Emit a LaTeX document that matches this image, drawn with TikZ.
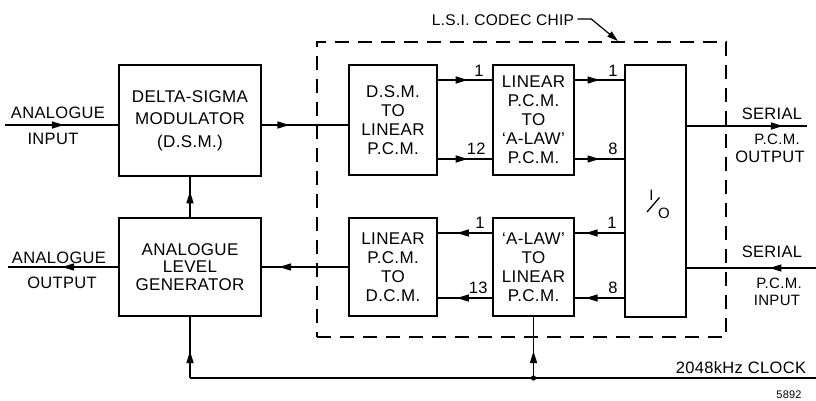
\documentclass[tikz,border=0pt]{standalone}
\usepackage{fontspec}
\setmainfont{Liberation Sans}[LetterSpace=2]
\usetikzlibrary{arrows.meta,decorations.markings,calc}
\newcommand\lblfont{\fontsize{17}{19}\selectfont}
\newcommand\outfont{\fontsize{16.5}{19}\selectfont}
\newcommand\tightfont{\fontsize{15}{17}\selectfont}
\newcommand\smallfont{\fontsize{11}{12}\selectfont}
\tikzset{
  blk/.style={draw, line width=1.5pt, align=center, inner sep=0pt, font=\lblfont},
  wire/.style={line width=1.4pt},
  arrowat/.style={postaction={decorate}, decoration={markings,
      mark=at position #1 with {\arrow{Triangle[length=12pt,width=7pt]}}}},
  txt/.style={font=\outfont, inner sep=0pt, anchor=base},
  num/.style={font=\outfont, inner sep=0pt, anchor=base east},
  chipbox/.style={draw, line width=1.4pt, dash pattern=on 14pt off 9pt, inner sep=0pt},
}
\begin{document}
\begin{tikzpicture}[x=1pt,y=-1pt]
\useasboundingbox (0,0) rectangle (816,400);

% blocks
\node[blk, minimum width=142pt, minimum height=111pt] (dsm) at (190,120.5)
  {DELTA-SIGMA\\[3.5pt]MODULATOR\\[3.5pt](D.S.M.)};
\node[blk, minimum width=142pt, minimum height=98pt] (alg) at (190,267)
  {ANALOGUE\\[-1.5pt]LEVEL\\[-1.5pt]GENERATOR};
\node[chipbox, minimum width=409pt, minimum height=295pt] (chip) at (521.5,189.5) {};
\node[blk, minimum width=88pt, minimum height=110pt] (d2l) at (393,120)
  {D.S.M.\\TO\\LINEAR\\P.C.M.};
\node[blk, minimum width=81pt, minimum height=110pt] (l2a) at (533.5,120)
  {LINEAR\\P.C.M.\\TO\\`A-LAW'\\P.C.M.};
\node[blk, minimum width=88pt, minimum height=98pt] (l2d) at (393,267)
  {LINEAR\\P.C.M.\\TO\\D.C.M.};
\node[blk, minimum width=81pt, minimum height=98pt] (a2l) at (533.5,267)
  {`A-LAW'\\TO\\LINEAR\\P.C.M.};
\node[blk, minimum width=61pt, minimum height=252pt] (io) at (655.5,191) {};
% I/O mark
\node[font=\fontsize{15}{15}\selectfont, inner sep=0pt, anchor=base] (ioi) at (651.5,200) {I};
\node[font=\fontsize{15}{15}\selectfont, inner sep=0pt, anchor=base] (ioo) at (664,218.5) {O};
\draw[line width=1.3pt] (647,212) -- (659.5,197.5);

% coordinates
\coordinate (ain) at (5,125);
\coordinate (aout) at (8,267);
\coordinate (sout) at (807,126);
\coordinate (sin) at (816,268);
\coordinate (clkend) at (816,378);
\coordinate (clkcorner) at (alg.south |- clkend);
\coordinate (jn) at (a2l.south |- clkend);
\coordinate (chiptip) at (618,41);
\coordinate (ya) at (0,80);
\coordinate (yb) at (0,159);
\coordinate (yc) at (0,233);
\coordinate (yd) at (0,298);

% analogue side
\draw[wire, arrowat=0.52] (ain) -- (dsm.west |- ain);
\draw[wire, arrowat=0.32] (dsm.east |- ain) -- (d2l.west |- ain);
\draw[wire, arrowat=0.51] (alg.west |- aout) -- (aout);
\draw[wire, arrowat=0.8] (l2d.west |- aout) -- (alg.east |- aout);
\draw[wire, arrowat=0.64] (alg.north) -- (dsm.south);

% chip internal, upper
\draw[wire, arrowat=0.55] (d2l.east |- ya) -- node[num, pos=1, xshift=-8pt, yshift=4pt] {1} (l2a.west |- ya);
\draw[wire, arrowat=0.55] (d2l.east |- yb) -- node[num, pos=1, xshift=-6pt, yshift=5pt] {12} (l2a.west |- yb);
\draw[wire, arrowat=0.5] (l2a.east |- ya) -- node[num, pos=1, xshift=-6pt, yshift=4pt] {1} (io.west |- ya);
\draw[wire, arrowat=0.5] (l2a.east |- yb) -- node[num, pos=1, xshift=-6pt, yshift=5pt] {8} (io.west |- yb);

% chip internal, lower
\draw[wire, arrowat=0.65] (a2l.west |- yc) -- node[num, pos=0, xshift=-7pt, yshift=5pt] {1} (l2d.east |- yc);
\draw[wire, arrowat=0.65] (a2l.west |- yd) -- node[num, pos=0, xshift=-4pt, yshift=5pt] {13} (l2d.east |- yd);
\draw[wire, arrowat=0.78] (io.west |- yc) -- node[num, pos=0, xshift=-7pt, yshift=5pt] {1} (a2l.east |- yc);
\draw[wire, arrowat=0.78] (io.west |- yd) -- node[num, pos=0, xshift=-6pt, yshift=5pt] {8} (a2l.east |- yd);

% serial side
\draw[wire, arrowat=0.8] (io.east |- sout) -- (sout);
\draw[wire, arrowat=0.36] (sin) -- (io.east |- sin);

% clock
\draw[wire] (clkend) -- (clkcorner);
\draw[wire, arrowat=0.44] (clkcorner) -- (alg.south);
\draw[wire, arrowat=0.44] (jn) -- (a2l.south);
\fill (jn) circle (2.6pt);

% codec label
\node[txt, font=\fontsize{15.5}{18}\selectfont] (codec) at (503,25) {L.S.I. CODEC CHIP};
\draw[wire, line width=1.2pt, -{Triangle[length=11pt,width=6.5pt]}] ([xshift=3pt,yshift=6pt]codec.base east) -- ++(14,0) -- (chiptip);

% texts
\node[txt] (t1) at (58,118) {ANALOGUE};
\node[txt] (t2) at (53,144) {INPUT};
\node[txt] (t3) at (59,263) {ANALOGUE};
\node[txt] (t4) at (62,288) {OUTPUT};
\node[txt] (t5) at (772,119) {SERIAL};
\node[txt, font=\tightfont] (t6) at (777,144) {P.C.M.};
\node[txt] (t7) at (770,162) {OUTPUT};
\node[txt] (t8) at (772,257) {SERIAL};
\node[txt, font=\tightfont] (t9) at (779,288.5) {P.C.M.};
\node[txt, font=\tightfont] (t10) at (777,305) {INPUT};
\node[txt] (clk) at (741,373) {2048kHz CLOCK};
\node[txt, font=\smallfont] (ref) at (789,398) {5892};
\end{tikzpicture}
\end{document}
